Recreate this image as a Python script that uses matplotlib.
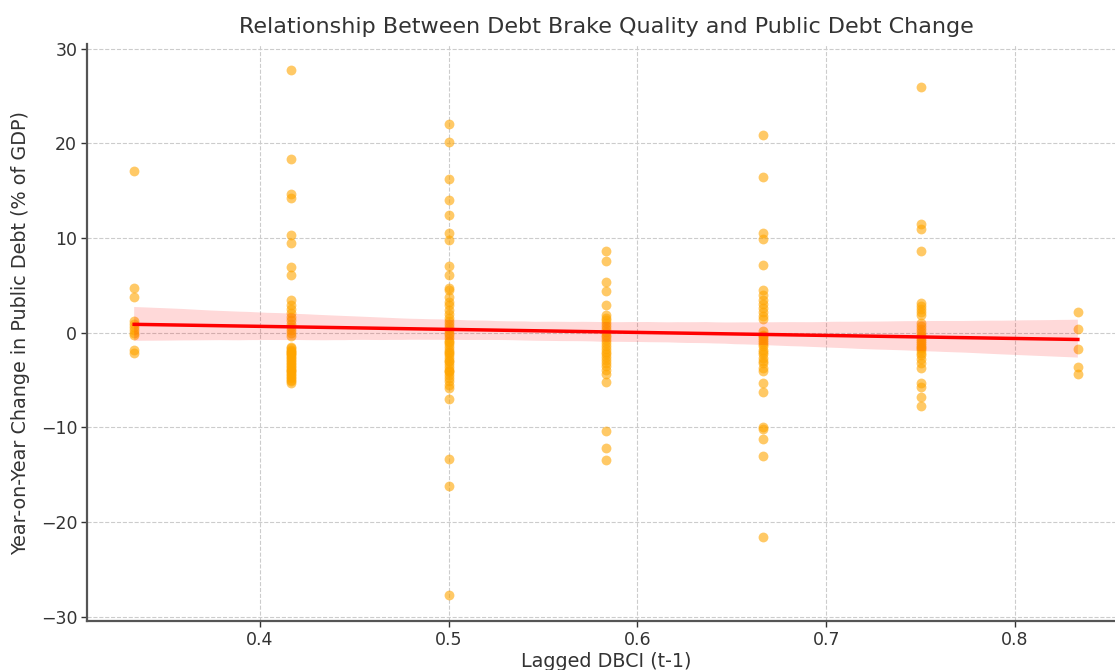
import numpy as np
import pandas as pd
import matplotlib
matplotlib.use("Agg")
import matplotlib.pyplot as plt
import seaborn as sns

# ------------------------------------------
# Data: lagged DBCI levels and debt changes
# ------------------------------------------
dbci_levels = [1 / 3, 5 / 12, 0.5, 7 / 12, 2 / 3, 0.75, 5 / 6]

debt_change_033 = [17.1, 4.7, 3.8, 1.2, 0.9, 0.6, 0.3, 0.0, -0.3, -1.8, -2.2]
debt_change_042 = [27.7, 18.3, 14.6, 14.2, 10.3, 9.5, 6.9, 6.1, 3.4, 2.9, 2.5,
                   2.1, 1.7, 1.3, 0.9, 0.6, 0.3, 0.0, -0.4, -1.5, -1.6, -1.8,
                   -1.9, -2.0, -2.2, -2.3, -2.4, -2.6, -2.7, -2.9, -3.0, -3.2,
                   -3.3, -3.5, -3.6, -3.8, -3.9, -4.1, -4.2, -4.4, -4.5, -4.7,
                   -4.8, -5.0, -5.1, -5.3]
debt_change_050 = [22.0, 20.1, 16.2, 14.0, 12.4, 10.5, 9.8, 7.0, 6.1, 4.7, 4.5,
                   3.8, 3.2, 2.9, 2.4, 2.0, 1.6, 1.2, 0.9, 0.6, 0.3, 0.0, -0.3,
                   -0.6, -0.9, -1.0, -1.2, -1.5, -1.8, -2.0, -2.1, -2.4, -2.7,
                   -3.0, -3.0, -3.3, -3.6, -3.9, -4.0, -4.2, -4.5, -4.8, -5.1,
                   -5.5, -5.8, -7.0, -13.3, -16.2, -27.7]
debt_change_058 = [8.6, 7.6, 5.3, 4.4, 2.9, 1.9, 1.6, 1.3, 1.0, 0.7, 0.4, 0.1,
                   -0.2, -0.5, -0.8, -1.1, -1.4, -1.7, -2.0, -2.3, -2.6, -2.9,
                   -3.2, -3.5, -3.9, -4.4, -5.2, -10.4, -12.2, -13.4]
debt_change_067 = [20.9, 16.4, 10.5, 9.9, 7.1, 4.5, 4.0, 3.5, 3.0, 2.6, 2.2, 1.8,
                   1.4, 0.2, -0.2, -0.4, -0.6, -0.8, -1.0, -1.2, -1.4, -1.8,
                   -2.0, -2.3, -2.7, -3.0, -3.2, -3.7, -4.1, -5.3, -6.3, -10.0,
                   -10.2, -11.2, -13.0, -21.6]
debt_change_075 = [25.9, 11.5, 10.9, 8.6, 3.1, 2.8, 2.5, 2.2, 1.9, 1.0, 0.7, 0.4,
                   0.1, -0.3, -0.5, -0.7, -0.9, -1.1, -1.3, -1.5, -1.6, -1.8,
                   -2.1, -2.4, -2.8, -3.2, -3.7, -5.3, -5.7, -6.8, -7.8]
debt_change_083 = [2.2, 0.4, -1.7, -3.6, -4.4]

debt_changes = [debt_change_033, debt_change_042, debt_change_050, debt_change_058,
                debt_change_067, debt_change_075, debt_change_083]

# long table for seaborn
rows = []
for level, values in zip(dbci_levels, debt_changes):
    for v in values:
        rows.append({"dbci_lag": level, "debt_change": v})
df = pd.DataFrame(rows)

# ------------------------------------------
# Plot
# ------------------------------------------
text_color = "#333333"
plt.rcParams["font.family"] = ["DejaVu Sans"]

fig = plt.figure(figsize=(11.15, 6.7), dpi=100)
ax = fig.add_axes([0.078, 0.073, 0.931, 0.861])

sns.regplot(
    data=df, x="dbci_lag", y="debt_change", ax=ax, seed=0,
    scatter_kws={"color": "orange", "alpha": 0.6, "s": 50, "linewidths": 0},
    line_kws={"color": "red", "linewidth": 2.5},
)

ax.set_title("Relationship Between Debt Brake Quality and Public Debt Change",
             fontsize=16, color=text_color, pad=8)
ax.set_xlabel("Lagged DBCI (t-1)", fontsize=13.8, color=text_color, labelpad=2)
ax.set_ylabel("Year-on-Year Change in Public Debt (% of GDP)", fontsize=13.8,
              color=text_color, labelpad=8)

ax.set_xticks([0.4, 0.5, 0.6, 0.7, 0.8])
ax.set_yticks([-30, -20, -10, 0, 10, 20, 30])
ax.tick_params(labelsize=12.5, colors=text_color, length=4, width=1, pad=3)
ax.grid(True, linestyle="--", color="#cccccc", linewidth=0.8)
ax.set_axisbelow(True)

for side in ["top", "right"]:
    ax.spines[side].set_visible(False)
for side in ["left", "bottom"]:
    ax.spines[side].set_color("#555555")
    ax.spines[side].set_linewidth(1.6)

fig.savefig("out.png", dpi=100)
